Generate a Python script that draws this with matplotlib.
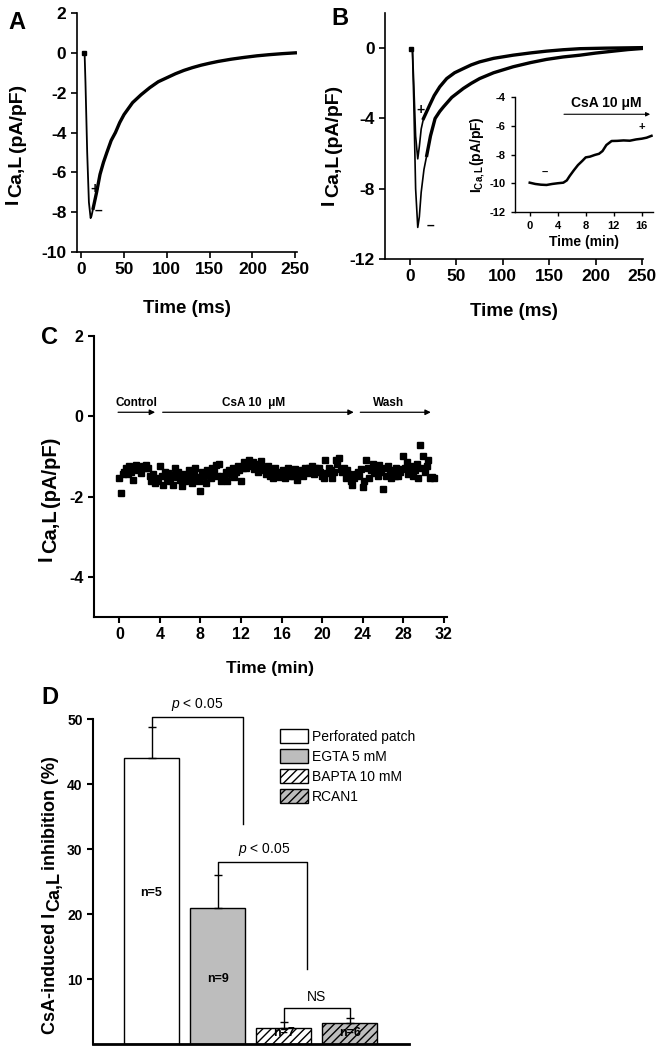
import numpy as np
import matplotlib.pyplot as plt
from matplotlib.patches import Patch

plt.rcParams['font.family'] = ['Liberation Sans', 'DejaVu Sans']
plt.rcParams['font.weight'] = 'bold'
plt.rcParams['axes.labelweight'] = 'bold'
plt.rcParams['axes.unicode_minus'] = False
plt.rcParams['mathtext.fontset'] = 'custom'
plt.rcParams['mathtext.rm'] = 'Liberation Sans:bold'
plt.rcParams['mathtext.bf'] = 'Liberation Sans:bold'
plt.rcParams['mathtext.it'] = 'Liberation Sans:italic:regular'
plt.rcParams['hatch.linewidth'] = 1.0

# ===========================
# Data
# ===========================

# A: single current trace
a_time = [3, 4, 5, 7, 9, 11, 12, 14, 16, 18, 22, 26, 30, 35, 40, 45, 50, 60, 70, 80,
          90, 100, 110, 120, 130, 140, 150, 160, 175, 190, 205, 220, 235, 250]
a_curr = [0.0, -0.05, -1.5, -5.0, -7.5, -8.3, -8.2, -7.8, -7.4, -7.0, -6.1, -5.5, -5.0, -4.4,
          -4.0, -3.5, -3.1, -2.5, -2.1, -1.75, -1.45, -1.25, -1.05, -0.88, -0.74, -0.62,
          -0.52, -0.43, -0.32, -0.23, -0.15, -0.09, -0.04, 0.0]

# B: control (-) and CsA (+) traces
b_time_ctl = [0.7, 2.5, 4, 6, 8.3, 10, 12, 15, 18, 22, 27, 32, 36, 45, 57.5, 66, 75, 90,
              111, 130, 147, 165, 183, 200, 219, 235, 250]
b_curr_ctl = [-0.05, 0.0, -3.0, -8.0, -10.2, -9.6, -8.2, -6.9, -6.1, -5.0, -4.0, -3.6, -3.34,
              -2.8, -2.29, -2.0, -1.73, -1.4, -1.06, -0.82, -0.64, -0.5, -0.4, -0.28, -0.17,
              -0.08, -0.02]
b_time_csa = [0.7, 2.5, 4, 6, 8.3, 10, 12, 14.5, 18, 21.5, 26, 32, 39.5, 48, 57.5, 66, 75,
              90, 111, 130, 147, 165, 183, 210, 250]
b_curr_csa = [-0.05, 0.0, -2.0, -5.0, -6.3, -5.6, -4.6, -4.0, -3.6, -3.2, -2.7, -2.2, -1.73,
              -1.4, -1.16, -0.95, -0.78, -0.58, -0.4, -0.27, -0.17, -0.09, -0.03, 0.0, 0.03]

# B inset: time course of I_Ca,L
ins_time = [0.0, 0.8, 1.6, 2.4, 3.2, 4.0, 4.8, 5.3, 5.7, 6.3, 6.9, 7.5, 8.0, 8.6, 9.3,
            9.9, 10.4, 10.95, 11.7, 12.5, 13.4, 14.3, 15.2, 16.0, 16.7, 17.4]
ins_curr = [-9.96, -10.05, -10.1, -10.12, -10.05, -10.0, -9.96, -9.8, -9.5, -9.1, -8.73,
            -8.45, -8.2, -8.15, -8.03, -7.95, -7.76, -7.34, -7.06, -7.05, -7.02, -7.04,
            -6.95, -6.9, -6.83, -6.7]

# C: I_Ca,L time course (one sweep every 10 s)
c_dt = 1 / 6
c_curr = [
    -1.55, -1.91, -1.45, -1.38, -1.30, -1.45,
    -1.25, -1.40, -1.58, -1.28, -1.22, -1.35,
    -1.30, -1.42, -1.25, -1.30, -1.22, -1.28,
    -1.50, -1.62, -1.45, -1.65, -1.55, -1.60,
    -1.25, -1.48, -1.70, -1.38, -1.55, -1.42,
    -1.62, -1.47, -1.72, -1.28, -1.52, -1.40,
    -1.58, -1.73, -1.45, -1.60, -1.50, -1.35,
    -1.55, -1.65, -1.42, -1.30, -1.52, -1.60,
    -1.85, -1.40, -1.50, -1.65, -1.35, -1.45,
    -1.55, -1.30, -1.40, -1.22, -1.50, -1.18,
    -1.60, -1.48, -1.55, -1.40, -1.62, -1.35,
    -1.45, -1.30, -1.52, -1.40, -1.25, -1.35,
    -1.60, -1.28, -1.15, -1.30, -1.20, -1.10,
    -1.25, -1.15, -1.32, -1.20, -1.38, -1.28,
    -1.12, -1.30, -1.35, -1.45, -1.25, -1.50,
    -1.40, -1.55, -1.30, -1.48, -1.38, -1.52,
    -1.45, -1.35, -1.55, -1.42, -1.30, -1.50,
    -1.38, -1.48, -1.32, -1.58, -1.45, -1.40,
    -1.35, -1.50, -1.28, -1.42, -1.30, -1.38,
    -1.25, -1.45, -1.30, -1.35, -1.28, -1.40,
    -1.50, -1.55, -1.10, -1.42, -1.30, -1.35,
    -1.55, -1.38, -1.08, -1.20, -1.05, -1.32,
    -1.40, -1.30, -1.55, -1.35, -1.45, -1.62,
    -1.70, -1.55, -1.45, -1.38, -1.50, -1.32,
    -1.75, -1.60, -1.10, -1.28, -1.55, -1.35,
    -1.20, -1.42, -1.30, -1.48, -1.22, -1.38,
    -1.80, -1.30, -1.50, -1.25, -1.42, -1.55,
    -1.35, -1.48, -1.28, -1.50, -1.40, -1.32,
    -1.00, -1.30, -1.15, -1.45, -1.38, -1.25,
    -1.50, -1.35, -1.20, -1.55, -0.72, -1.30,
    -1.00, -1.40, -1.25, -1.10, -1.55, -1.52,
    -1.55,
]
c_time = np.arange(len(c_curr)) * c_dt

# D: CsA-induced inhibition
d_labels = ['Perforated patch', 'EGTA 5 mM', 'BAPTA 10 mM', 'RCAN1']
d_values = [44.0, 21.0, 2.5, 3.2]
d_errors = [4.8, 5.0, 0.9, 0.8]
d_n = ['n=5', 'n=9', 'n=7', 'n=6']
d_colors = ['white', '#bdbdbd', 'white', '#bdbdbd']
d_hatch = ['', '', '////', '////']

# ===========================
# Helpers
# ===========================

fig = plt.figure(figsize=(6.63, 10.5), dpi=100)


def style(ax, lw=1.2, size=12.5):
    for s in ['top', 'right']:
        ax.spines[s].set_visible(False)
    for s in ['left', 'bottom']:
        ax.spines[s].set_linewidth(lw)
    ax.tick_params(direction='out', length=4, width=lw, labelsize=size)


def bold_ticks(ax):
    for lbl in ax.get_xticklabels() + ax.get_yticklabels():
        lbl.set_fontweight('bold')


def rot_label(ax, x, y, parts, size):
    # rotated y label built from pieces; each piece shifted by (dx, dy) points
    prev = None
    for txt, dx in parts:
        if prev is None:
            prev = ax.text(x, y, txt, transform=ax.transAxes, rotation=90,
                           fontsize=size, weight='bold', ha='center', va='bottom')
        else:
            prev = ax.annotate(txt, xy=(0.5, 1), xycoords=prev, xytext=(dx, 1.5),
                               textcoords='offset points', rotation=90,
                               fontsize=size, weight='bold', ha='center', va='bottom')


# ---- Panel A ----
axA = fig.add_axes([0.116, 0.76, 0.332, 0.2276])
style(axA)
axA.plot(a_time[1:], a_curr[1:], color='k', lw=1.3)
axA.plot(a_time[7:], a_curr[7:], color='k', lw=2.4)
axA.plot(a_time[0], a_curr[0], 'ks', ms=3.5)
axA.set_xlim(-5, 252)
axA.set_ylim(-10, 2)
axA.set_xticks([0, 50, 100, 150, 200, 250])
axA.set_yticks([-10, -8, -6, -4, -2, 0, 2])
bold_ticks(axA)
axA.set_xlabel('Time (ms)', fontsize=13.5)
axA.xaxis.set_label_coords(0.5, -0.2)
rot_label(axA, -0.29, 0.2, [('I', 0), ('Ca,L', 3), ('(pA/pF)', 0)], 14)
axA.text(15.6, -6.85, '+', fontsize=10, ha='center', va='center')
axA.text(20.5, -7.95, '\u2013', fontsize=10, ha='center', va='center')
fig.text(0.026, 0.979, 'A', fontsize=17, ha='center', va='center')

# ---- Panel B ----
axB = fig.add_axes([0.5807, 0.7533, 0.389, 0.2343])
style(axB)
axB.plot(b_time_ctl[1:], b_curr_ctl[1:], color='k', lw=1.2)
axB.plot(b_time_ctl[8:], b_curr_ctl[8:], color='k', lw=2.4)
axB.plot(b_time_csa[1:], b_curr_csa[1:], color='k', lw=1.2)
axB.plot(b_time_csa[7:], b_curr_csa[7:], color='k', lw=2.4)
axB.plot(b_time_ctl[0], b_curr_ctl[0], 'ks', ms=3.5)
axB.set_xlim(-27, 251)
axB.set_ylim(-12, 2)
axB.set_xticks([0, 50, 100, 150, 200, 250])
axB.set_yticks([-12, -8, -4, 0])
bold_ticks(axB)
axB.set_xlabel('Time (ms)', fontsize=13.5)
axB.xaxis.set_label_coords(0.5, -0.18)
rot_label(axB, -0.215, 0.22, [('I', 0), ('Ca,L', 3), ('(pA/pF)', 0)], 14)
axB.text(11.5, -3.5, '+', fontsize=10, ha='center', va='center')
axB.text(22, -10.1, '\u2013', fontsize=10, ha='center', va='center')
fig.text(0.513, 0.982, 'B', fontsize=17, ha='center', va='center')

# inset
axI = fig.add_axes([0.7768, 0.7981, 0.208, 0.1095])
style(axI, lw=1.0, size=8)
axI.tick_params(length=3)
axI.plot(ins_time, ins_curr, color='k', lw=1.8)
axI.set_xlim(-2.1, 17.6)
axI.set_ylim(-12, -4)
axI.set_xticks([0, 4, 8, 12, 16])
axI.set_yticks([-12, -10, -8, -6, -4])
bold_ticks(axI)
axI.set_xlabel('Time (min)', fontsize=10)
axI.xaxis.set_label_coords(0.5, -0.2)
axI.set_ylabel(r'$\mathregular{I}_{\mathregular{Ca,L}}$(pA/pF)', fontsize=10)
axI.yaxis.set_label_coords(-0.2, 0.5)
axI.annotate('', xy=(17.6, -5.2), xytext=(4.5, -5.2),
             arrowprops=dict(arrowstyle='-|>', color='k', lw=0.8, mutation_scale=6),
             annotation_clip=False)
axI.text(11.0, -4.45, 'CsA 10 \u03bcM', fontsize=10, ha='center', va='center')
axI.text(2.1, -9.25, '\u2013', fontsize=8, ha='center', va='center')
axI.text(16.0, -6.1, '+', fontsize=8, ha='center', va='center')

# ---- Panel C ----
axC = fig.add_axes([0.1418, 0.4124, 0.532, 0.2676])
style(axC, lw=1.5, size=11.5)
axC.plot(c_time, c_curr, 's', color='k', ms=4.0)
axC.set_xlim(-2.5, 32.3)
axC.set_ylim(-5, 2)
axC.set_xticks(np.arange(0, 33, 4))
axC.set_yticks([-4, -2, 0, 2])
bold_ticks(axC)
axC.set_xlabel('Time (min)', fontsize=12.5)
axC.xaxis.set_label_coords(0.5, -0.155)
rot_label(axC, -0.135, 0.2, [('I', 0), ('Ca,L', 3), ('(pA/pF)', 0)], 14.5)
arrow_kw = dict(arrowstyle='-|>', color='k', lw=0.9, mutation_scale=8)
for x0, x1 in [(-0.4, 3.8), (4.0, 23.4), (23.5, 31.0)]:
    axC.annotate('', xy=(x1, 0.1), xytext=(x0, 0.1), arrowprops=arrow_kw)
axC.text(-0.4, 0.17, 'Control', fontsize=8.5, ha='left', va='bottom')
axC.text(13.2, 0.17, 'CsA 10  \u03bcM', fontsize=8.5, ha='center', va='bottom')
axC.text(26.6, 0.17, 'Wash', fontsize=8.5, ha='center', va='bottom')
fig.text(0.0754, 0.679, 'C', fontsize=17, ha='center', va='center')

# ---- Panel D ----
axD = fig.add_axes([0.1403, 0.0057, 0.4766, 0.3095])
style(axD, lw=1.5, size=10)
axD.spines['bottom'].set_linewidth(2)
x = np.arange(len(d_values))
axD.bar(x, d_values, width=0.833, color=d_colors, edgecolor='k', linewidth=1.0,
        hatch=d_hatch)
axD.errorbar(x, d_values, yerr=[np.zeros(len(d_errors)), d_errors], fmt='none',
             ecolor='k', elinewidth=1.0, capsize=3, capthick=1.0)
axD.set_xlim(-0.886, 3.90)
axD.set_ylim(0, 50)
axD.set_xticks([])
axD.set_yticks([10, 20, 30, 40, 50])
bold_ticks(axD)
rot_label(axD, -0.135, 0.03,
          [('CsA-induced I', 0), ('Ca,L', 3), ('inhibition (%)', -3)], 13)

for xi, v, lab in zip(x, [23.3, 10.0, 1.7, 1.7], d_n):
    axD.text(xi, v, lab, fontsize=9, ha='center', va='center')

brk = dict(color='k', lw=1.0)
ptxt = dict(fontsize=10, weight='normal', ha='center', va='center')
axD.plot([0, 0, 1.38, 1.38], [48.8, 50.3, 50.3, 33.8], **brk, clip_on=False)
axD.text(0.69, 52.2, r'$\it{p}$ < 0.05', **ptxt)
axD.plot([1, 1, 2.35, 2.35], [26.0, 28.0, 28.0, 11.5], **brk)
axD.text(1.7, 29.9, r'$\it{p}$ < 0.05', **ptxt)
axD.plot([2, 2, 3, 3], [3.4, 5.5, 5.5, 4.0], **brk)
axD.text(2.5, 7.3, 'NS', **ptxt)

handles = [Patch(facecolor=c, edgecolor='k', hatch=h, linewidth=1.0)
           for c, h in zip(d_colors, d_hatch)]
axD.legend(handles, d_labels, loc='upper left', bbox_to_anchor=(0.575, 0.985), frameon=False,
           prop=dict(weight='normal', size=10), handlelength=2.0,
           handleheight=1.1, labelspacing=0.4, handletextpad=0.3, borderaxespad=0)
fig.text(0.0754, 0.336, 'D', fontsize=17, ha='center', va='center')

fig.savefig('out.png', dpi=100)
